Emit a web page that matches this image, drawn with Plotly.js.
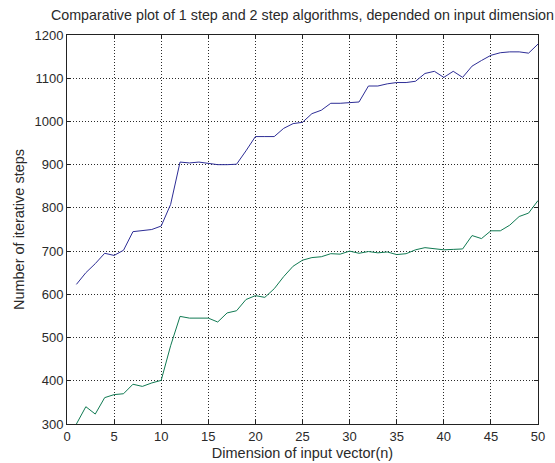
<!DOCTYPE html>
<html>
<head>
<meta charset="utf-8">
<script src="https://cdn.plot.ly/plotly-3.0.1.min.js"></script>
<style>
  html, body { margin: 0; padding: 0; background: #ffffff; }
  #chart { width: 555px; height: 463px; }
</style>
</head>
<body>
<div id="chart"></div>
<script>
// Input dimension n
const dims = [1,2,3,4,5,6,7,8,9,10,11,12,13,14,15,16,17,18,19,20,21,22,23,24,25,
              26,27,28,29,30,31,32,33,34,35,36,37,38,39,40,41,42,43,44,45,46,47,48,49,50];

// Iterative steps of the 1-step algorithm
const oneStep = [623,650,671,695,690,702,745,748,750,758,808,906,904,906,903,900,900,901,932,965,
                 965,965,984,995,998,1018,1026,1042,1042,1043,1045,1082,1082,1087,1090,1090,1093,1111,1116,1102,
                 1116,1102,1128,1141,1153,1159,1161,1161,1158,1179];

// Iterative steps of the 2-step algorithm
const twoStep = [300,340,323,361,368,370,392,387,395,401,481,549,545,545,545,536,557,562,588,597,
                 593,613,641,665,679,685,687,694,693,700,695,699,696,698,692,694,703,708,706,703,
                 704,705,736,729,747,747,760,780,788,817];

const xTicks = [0,5,10,15,20,25,30,35,40,45,50];
const yTicks = [300,400,500,600,700,800,900,1000,1100,1200];

const fam = 'Liberation Sans, Arial, sans-serif';
const tickFont = { family: fam, size: 13, color: '#2a2a2a' };
const labelFont = { family: fam, size: 14.5, color: '#2a2a2a' };

const traces = [
  { x: dims, y: oneStep, type: 'scatter', mode: 'lines', name: '1 step',
    line: { color: '#2d2d96', width: 1 } },
  { x: dims, y: twoStep, type: 'scatter', mode: 'lines', name: '2 step',
    line: { color: '#107a52', width: 1 } }
];

const axisCommon = {
  showline: true, linecolor: '#222222', linewidth: 1, mirror: 'ticks',
  ticks: 'inside', ticklen: 4, tickcolor: '#222222',
  showgrid: true, gridcolor: '#2a2a2a', gridwidth: 1, griddash: '1px,2px',
  zeroline: false, tickfont: tickFont
};

const layout = {
  width: 555, height: 463,
  margin: { l: 67, r: 17, t: 35, b: 39 },
  paper_bgcolor: '#ffffff', plot_bgcolor: '#ffffff',
  showlegend: false,
  font: labelFont,
  title: {
    text: 'Comparative plot of 1 step and 2 step algorithms, depended on input dimension',
    font: { family: fam, size: 14.3, color: '#2a2a2a' },
    x: 0.545, xanchor: 'center', y: 0.968, yanchor: 'middle'
  },
  xaxis: Object.assign({}, axisCommon, {
    range: [0, 50], tickvals: xTicks, ticktext: xTicks.map(String),
    title: { text: 'Dimension of input vector(n)', font: labelFont, standoff: 5 }
  }),
  yaxis: Object.assign({}, axisCommon, {
    range: [300, 1200], tickvals: yTicks, ticktext: yTicks.map(String),
    title: { text: 'Number of iterative steps', font: labelFont, standoff: 6 }
  })
};

Plotly.newPlot('chart', traces, layout, { displayModeBar: false, staticPlot: true });
</script>
</body>
</html>
